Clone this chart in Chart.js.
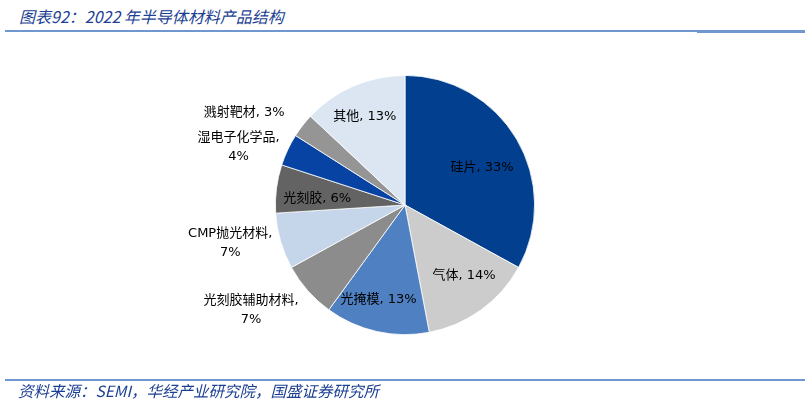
<!DOCTYPE html>
<html>
<head>
<meta charset="utf-8">
<script src="https://cdn.jsdelivr.net/npm/chart.js@4"></script>
<style>
  body { margin: 0; background: #fff; }
  #wrap { position: relative; width: 810px; height: 404px; overflow: hidden; }
  #title { position: absolute; left: 19px; top: 4px; font: italic 16px "Noto Sans CJK SC", sans-serif; color: #1b3f93; white-space: nowrap; }
  #source { position: absolute; left: 18px; top: 379px; font: italic 15.5px "Noto Sans CJK SC", sans-serif; color: #1b3f93; white-space: nowrap; }
  .rule { position: absolute; background: #7098d0; }
  canvas { position: absolute; left: 0; top: 0; }
</style>
</head>
<body>
<div id="wrap">
  <div id="title">图表92：2022 年半导体材料产品结构</div>
  <div class="rule" style="left:5px; top:30px; width:800px; height:2px;"></div>
  <div class="rule" style="left:697px; top:30px; width:108px; height:3px;"></div>
  <canvas id="myChart" width="810" height="404"></canvas>
  <div class="rule" style="left:5px; top:379px; width:800px; height:2px;"></div>
  <div id="source">资料来源：SEMI，华经产业研究院，国盛证券研究所</div>
</div>
<script>
// 2022年半导体材料产品结构（%）
const categories = ['硅片', '气体', '光掩模', '光刻胶辅助材料', 'CMP抛光材料', '光刻胶', '湿电子化学品', '溅射靶材', '其他'];
const shares = [33, 14, 13, 7, 7, 6, 4, 3, 13];
const sliceColors = ['#02408f', '#cccccc', '#4f81c2', '#8c8c8c', '#c5d5ea', '#636363', '#0643a3', '#959595', '#dce6f2'];

// label placement: radius factor, angle nudge (deg), split into two lines
const labelPlace = [
    { r: 0.66, da: 5, split: false },
    { r: 0.71, da: -4, split: false },
    { r: 0.76, da: 3, split: false },
    { r: 1.44, da: 7, split: true },
    { r: 1.38, da: 4, split: true },
    { r: 0.68, da: -3, split: false },
    { r: 1.36, da: -6, split: true },
    { r: 1.43, da: -8, split: false },
    { r: 0.75, da: -1, split: false }
];

const pieLabels = {
    id: 'pieLabels',
    afterDatasetsDraw(chart) {
        const ctx = chart.ctx;
        const arcs = chart.getDatasetMeta(0).data;
        ctx.save();
        ctx.font = '13px "DejaVu Sans", "Noto Sans CJK SC", sans-serif';
        ctx.fillStyle = '#000';
        ctx.textAlign = 'center';
        ctx.textBaseline = 'middle';
        arcs.forEach((arc, i) => {
            const p = arc.getProps(['x', 'y', 'startAngle', 'endAngle', 'outerRadius'], true);
            const place = labelPlace[i];
            const mid = (p.startAngle + p.endAngle) / 2 + place.da * Math.PI / 180;
            const x = p.x + Math.cos(mid) * p.outerRadius * place.r;
            const y = p.y + Math.sin(mid) * p.outerRadius * place.r;
            const pct = shares[i] + '%';
            if (place.split) {
                ctx.fillText(categories[i] + ',', x, y - 9.5);
                ctx.fillText(pct, x, y + 9.5);
            } else {
                ctx.fillText(categories[i] + ', ' + pct, x, y);
            }
        });
        ctx.restore();
    }
};

const ctx = document.getElementById('myChart').getContext('2d');
const myChart = new Chart(ctx, {
    type: 'pie',
    data: {
        labels: categories,
        datasets: [{
            data: shares,
            backgroundColor: sliceColors,
            borderColor: '#ffffff',
            borderWidth: 0.8
        }]
    },
    options: {
        responsive: false,
        animation: false,
        layout: { padding: { left: 275, right: 275, top: 75, bottom: 69 } },
        plugins: {
            legend: { display: false },
            tooltip: { enabled: false }
        }
    },
    plugins: [pieLabels]
});
</script>
</body>
</html>
